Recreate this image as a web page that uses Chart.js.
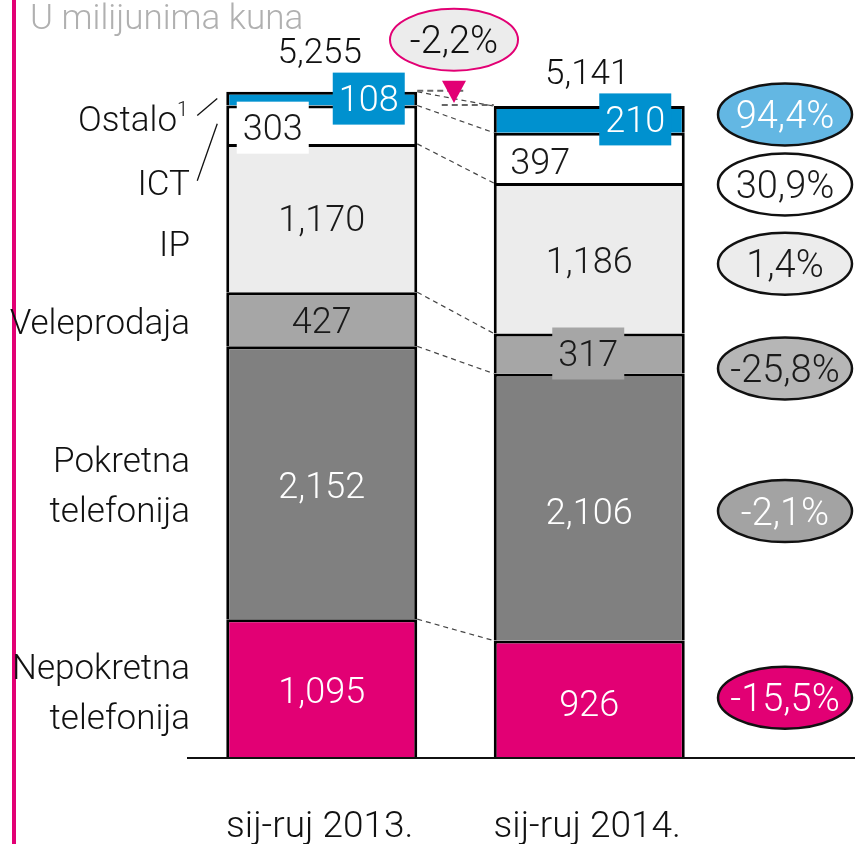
<!DOCTYPE html>
<html>
<head>
<meta charset="utf-8">
<script src="https://cdn.jsdelivr.net/npm/chart.js@4.4.1/dist/chart.umd.min.js"></script>
<style>
  html, body { margin: 0; padding: 0; background: #fff; }
  canvas { display: block; }
</style>
</head>
<body>
<canvas id="chart" width="855" height="844"></canvas>
<script>
// data (bottom segment first)
const periods = ["sij-ruj 2013.", "sij-ruj 2014."];
const segmentNames = [["Nepokretna", "telefonija"], ["Pokretna", "telefonija"], ["Veleprodaja"], ["IP"], ["ICT"], ["Ostalo"]];
const nepokretna = [1095, 926];
const pokretna = [2152, 2106];
const veleprodaja = [427, 317];
const ip = [1170, 1186];
const ict = [303, 397];
const ostalo = [108, 210];
const totals = [5255, 5141];
const changes = ["-15,5%", "-2,1%", "-25,8%", "1,4%", "30,9%", "94,4%"];
const totalChange = "-2,2%";
const unitTitle = "U milijunima kuna";

const series = [nepokretna, pokretna, veleprodaja, ip, ict, ostalo];

// styles
const FONT = "Roboto, 'Liberation Sans', Arial, sans-serif";
const WEIGHT = "300";
const MAGENTA = "#e20074";
const fills = ["#e20074", "#808080", "#a6a6a6", "#ececec", "#ffffff", "#0091cf"];
const valueColors = ["#fff", "#fff", "#1a1a1a", "#1a1a1a", "#1a1a1a", "#fff"];
const changeFills = ["#e20074", "#a3a3a3", "#b6b6b6", "#ececec", "#ffffff", "#63b7e3"];
const changeColors = ["#fff", "#fff", "#1a1a1a", "#1a1a1a", "#1a1a1a", "#fff"];
// tweaks relative to segment middles
const changeDy = [-1.5, 4, 15, 5.5, 26.5, -5];
const nameDy = [3, 1.5, 2.5, 25.5, 58, 19.5];
const valueShift = [
  [{dx: 0, dy: 2}, {dx: 0, dy: 4}],
  [{dx: 0, dy: 2}, {dx: 0, dy: 4}],
  [{dx: 0, dy: 1}, {dx: -1, dy: 0, box: true}],
  [{dx: 0, dy: 0}, {dx: 0, dy: 2}],
  [{dx: -49, dy: 3, box: true}, {dx: -49, dy: 3}],
  [{dx: 47, dy: 0, box: true}, {dx: 46, dy: 0, box: true}]
];
const totalDy = [-29, -23];

function fmt(v) { return v.toLocaleString("en-US"); }

function text(ctx, str, x, yMid, size, color, align) {
  ctx.font = WEIGHT + " " + size + "px " + FONT;
  ctx.fillStyle = color;
  ctx.textAlign = align || "center";
  ctx.textBaseline = "alphabetic";
  ctx.fillText(str, x, yMid + size * 0.356);
}

function ellipse(ctx, cx, cy, rx, ry, fill, stroke, lw) {
  ctx.beginPath();
  ctx.ellipse(cx, cy, rx, ry, 0, 0, Math.PI * 2);
  ctx.fillStyle = fill;
  ctx.fill();
  ctx.lineWidth = lw;
  ctx.strokeStyle = stroke;
  ctx.stroke();
}

const decor = {
  id: "decor",
  afterDatasetsDraw(chart) {
    const ctx = chart.ctx;
    const area = chart.chartArea;
    const bars = series.map((_, i) => chart.getDatasetMeta(i).data);
    const b1 = i => bars[i][0], b2 = i => bars[i][1];
    const mid = el => (el.y + el.base) / 2;
    ctx.save();

    // left magenta rule
    ctx.fillStyle = MAGENTA;
    ctx.fillRect(12, 0, 4, chart.height);

    // title
    text(ctx, unitTitle, 30, 17, 35, "#b0b0b0", "left");

    // baseline
    ctx.beginPath();
    ctx.moveTo(area.left - 1, area.bottom);
    ctx.lineTo(chart.width, area.bottom);
    ctx.lineWidth = 2;
    ctx.strokeStyle = "#111";
    ctx.stroke();

    // dashed connectors between bars
    ctx.setLineDash([5, 4]);
    ctx.lineWidth = 1.2;
    ctx.strokeStyle = "#444";
    series.forEach((_, i) => {
      const a = b1(i), b = b2(i);
      ctx.beginPath();
      ctx.moveTo(a.x + a.width / 2, a.y);
      ctx.lineTo(b.x - b.width / 2, b.y);
      ctx.stroke();
    });
    // top level markers
    const topA = b1(series.length - 1), topB = b2(series.length - 1);
    const gapL = topA.x + topA.width / 2, gapR = topB.x - topB.width / 2;
    ctx.lineWidth = 2;
    ctx.strokeStyle = "#666";
    ctx.setLineDash([6, 4]);
    ctx.beginPath();
    ctx.moveTo(gapL, topA.y - 1);
    ctx.lineTo(gapL + 49, topA.y - 1);
    ctx.moveTo(gapR - 52, topB.y - 1);
    ctx.lineTo(gapR, topB.y - 1);
    ctx.stroke();
    ctx.setLineDash([]);

    // triangle + total change bubble
    const cx = (gapL + gapR) / 2 - 1.5;
    ctx.beginPath();
    ctx.moveTo(cx - 12, topA.y - 11);
    ctx.lineTo(cx + 12, topA.y - 11);
    ctx.lineTo(cx, topB.y - 3);
    ctx.closePath();
    ctx.fillStyle = MAGENTA;
    ctx.fill();
    ellipse(ctx, cx, topA.y - 52, 64, 31, "#ececec", MAGENTA, 2);
    text(ctx, totalChange, cx, topA.y - 52, 38, "#111");

    // totals above bars
    [topA, topB].forEach((el, j) => {
      text(ctx, fmt(totals[j]), el.x - 2, el.y + totalDy[j] - 12, 35, "#111");
    });

    // values inside segments
    series.forEach((vals, i) => {
      [b1(i), b2(i)].forEach((el, j) => {
        const s = valueShift[i][j];
        const x = el.x + s.dx, y = mid(el) + s.dy;
        if (s.box) {
          ctx.fillStyle = fills[i];
          ctx.fillRect(x - 36, y - 26, 72, 52);
        }
        text(ctx, fmt(vals[j]), x, y, 36, valueColors[i]);
      });
    });

    // segment names on the left
    const nameRight = area.left + 2;
    segmentNames.forEach((lines, i) => {
      const y0 = mid(b1(i)) + nameDy[i] - (lines.length - 1) * 25;
      lines.forEach((ln, k) => {
        const y = y0 + k * 50;
        if (ln === "Ostalo") {
          text(ctx, "1", nameRight - 2, y - 9, 20, "#111", "right");
          text(ctx, ln, nameRight - 13, y, 35, "#111", "right");
        } else {
          text(ctx, ln, nameRight, y, 35, "#111", "right");
        }
      });
    });
    // leader lines for the thin segments
    ctx.lineWidth = 1.3;
    ctx.strokeStyle = "#111";
    [[5, 17], [4, 56]].forEach(([i, dy]) => {
      const el = b1(i);
      const left = el.x - el.width / 2;
      ctx.beginPath();
      ctx.moveTo(left - 9, mid(el) + (i === 4 ? -1 : 0));
      ctx.lineTo(left - 29, mid(el) + dy);
      ctx.stroke();
    });

    // change bubbles on the right
    const ex = chart.width - 70;
    series.forEach((_, i) => {
      const y = mid(b2(i)) + changeDy[i];
      ellipse(ctx, ex, y, 67, 31, changeFills[i], "#111", 2.5);
      text(ctx, changes[i], ex, y, 38, changeColors[i]);
    });

    // category labels
    const xs = chart.scales.x;
    periods.forEach((p, j) => {
      text(ctx, p, xs.getPixelForValue(j) - 2, 824, 37, "#111");
    });

    ctx.restore();
  }
};

new Chart(document.getElementById("chart"), {
  type: "bar",
  data: {
    labels: periods,
    datasets: series.map((vals, i) => ({
      label: segmentNames[i].join(" "),
      data: vals,
      backgroundColor: fills[i],
      borderColor: "#000",
      borderWidth: 3,
      borderSkipped: "start",
      barPercentage: 0.714,
      categoryPercentage: 1
    }))
  },
  options: {
    responsive: false,
    animation: false,
    events: [],
    layout: { padding: { left: 188, right: 132, top: 10, bottom: 86 } },
    plugins: { legend: { display: false }, tooltip: { enabled: false } },
    scales: {
      x: { stacked: true, display: false },
      y: { stacked: true, display: false, min: 0, max: 5900 }
    }
  },
  plugins: [decor]
});
</script>
</body>
</html>
